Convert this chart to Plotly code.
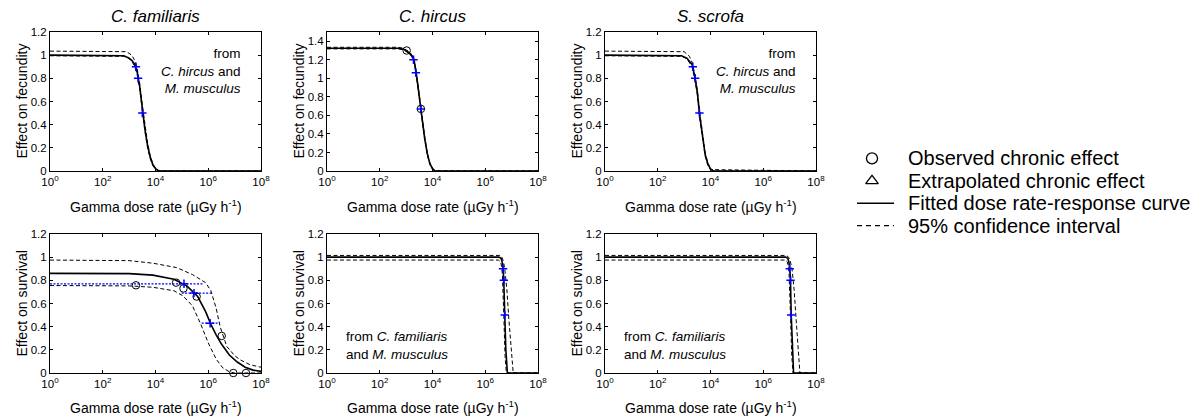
import plotly.graph_objects as go

# ---------------- data (x values are log10 of gamma dose rate, µGy/h) ----------------
TITLES = ["C. familiaris", "C. hircus", "S. scrofa"]
Y_TITLES = ["Effect on fecundity", "Effect on survival"]
X_TITLE = "Gamma dose rate (µGy h<sup>-1</sup>)"
X_TICK_EXP = [0, 2, 4, 6, 8]
Y_TICKS_STD = [0, 0.2, 0.4, 0.6, 0.8, 1, 1.2]
Y_TICKS_CH_FEC = [0, 0.2, 0.4, 0.6, 0.8, 1, 1.2, 1.4]
LEGEND_LABELS = ["Observed chronic effect", "Extrapolated chronic effect",
                 "Fitted dose rate-response curve", "95% confidence interval"]
NOTE_TOP = "from<br><i>C. hircus</i> and<br><i>M. musculus</i>"
NOTE_BOTTOM = "from <i>C. familiaris</i><br>and <i>M. musculus</i>"

# Panel 1: C. familiaris fecundity
cf_fec_fit_x = [0, 2.6, 2.8, 3.0, 3.1, 3.2, 3.3, 3.4, 3.5, 3.6, 3.7, 3.8, 3.9, 4.0, 4.1, 4.2, 8]
cf_fec_fit_y = [1.0, 1.0, 0.995, 0.975, 0.955, 0.925, 0.86, 0.73, 0.52, 0.36, 0.22, 0.12, 0.055, 0.02, 0.005, 0, 0]
cf_fec_up_x = [0, 2.7, 2.9, 3.1, 3.2, 3.3, 3.4, 3.5, 3.6, 3.7, 3.8, 3.9, 4.0, 4.1, 4.2, 8]
cf_fec_up_y = [1.035, 1.035, 1.03, 1.0, 0.96, 0.89, 0.76, 0.57, 0.39, 0.24, 0.13, 0.06, 0.025, 0.006, 0, 0]
cf_fec_lo_x = [0, 2.6, 2.8, 3.0, 3.1, 3.2, 3.3, 3.4, 3.5, 3.6, 3.7, 3.8, 3.9, 4.0, 4.1, 8]
cf_fec_lo_y = [0.995, 0.995, 0.99, 0.97, 0.945, 0.91, 0.84, 0.71, 0.50, 0.34, 0.2, 0.105, 0.045, 0.015, 0, 0]
cf_fec_ext_x = [3.26, 3.34, 3.50]
cf_fec_ext_y = [0.9, 0.8, 0.5]

# Panel 2: C. hircus fecundity
ch_fec_fit_x = [0, 2.7, 2.9, 3.0, 3.1, 3.2, 3.3, 3.4, 3.5, 3.6, 3.7, 3.8, 3.9, 4.0, 4.1, 8]
ch_fec_fit_y = [1.325, 1.325, 1.315, 1.30, 1.28, 1.25, 1.20, 1.02, 0.79, 0.57, 0.36, 0.19, 0.08, 0.025, 0, 0]
ch_fec_up_y = [1.335, 1.335, 1.325, 1.31, 1.29, 1.26, 1.21, 1.04, 0.81, 0.59, 0.38, 0.20, 0.09, 0.03, 0, 0]
ch_fec_lo_y = [1.318, 1.318, 1.308, 1.29, 1.27, 1.24, 1.19, 1.00, 0.77, 0.55, 0.34, 0.18, 0.07, 0.02, 0, 0]
ch_fec_obs_x = [3.02, 3.56]
ch_fec_obs_y = [1.30, 0.67]
ch_fec_ext_x = [3.28, 3.37, 3.56]
ch_fec_ext_y = [1.2, 1.06, 0.67]

# Panel 3: S. scrofa fecundity
ss_fec_fit_x = [0, 2.7, 2.9, 3.1, 3.2, 3.3, 3.4, 3.5, 3.6, 3.7, 3.8, 3.9, 4.0, 4.1, 8]
ss_fec_fit_y = [1.0, 1.0, 0.995, 0.975, 0.95, 0.92, 0.82, 0.68, 0.46, 0.28, 0.14, 0.06, 0.018, 0, 0]
ss_fec_up_x = [0, 2.8, 3.0, 3.2, 3.3, 3.4, 3.5, 3.6, 3.7, 3.8, 3.9, 4.0, 4.1, 8]
ss_fec_up_y = [1.035, 1.035, 1.03, 0.99, 0.94, 0.84, 0.70, 0.49, 0.30, 0.155, 0.07, 0.022, 0, 0]
ss_fec_lo_x = [0, 2.7, 2.9, 3.1, 3.2, 3.3, 3.4, 3.5, 3.6, 3.7, 3.8, 3.9, 4.0, 8]
ss_fec_lo_y = [0.995, 0.995, 0.99, 0.97, 0.94, 0.90, 0.80, 0.66, 0.44, 0.26, 0.125, 0.05, 0.012, 0]
ss_fec_ext_x = [3.33, 3.42, 3.58]
ss_fec_ext_y = [0.9, 0.8, 0.5]

# Panel 4: C. familiaris survival
cf_sur_fit_x = [0, 2, 3, 3.9, 4.7, 5.2, 5.6, 5.9, 6.1, 6.3, 6.5, 6.8, 7.1, 7.4, 7.7, 8]
cf_sur_fit_y = [0.86, 0.86, 0.858, 0.845, 0.81, 0.75, 0.66, 0.53, 0.42, 0.33, 0.25, 0.155, 0.095, 0.05, 0.025, 0.014]
cf_sur_up_x = [0, 2, 3, 3.9, 4.8, 5.4, 5.9, 6.1, 6.2, 6.3, 6.45, 6.7, 7.0, 7.2, 7.6, 8]
cf_sur_up_y = [0.975, 0.975, 0.97, 0.948, 0.91, 0.85, 0.78, 0.71, 0.64, 0.56, 0.40, 0.23, 0.15, 0.115, 0.07, 0.05]
cf_sur_lo_x = [0, 2, 3, 3.9, 4.7, 5.05, 5.4, 5.7, 6.0, 6.3, 6.55, 6.8, 7.0, 8]
cf_sur_lo_y = [0.755, 0.755, 0.752, 0.74, 0.71, 0.665, 0.58, 0.43, 0.26, 0.12, 0.045, 0.01, 0, 0]
cf_sur_obs_x = [3.26, 4.78, 5.06, 5.56, 6.51, 6.95, 7.43]
cf_sur_obs_y = [0.757, 0.78, 0.73, 0.66, 0.32, 0, 0]
cf_sur_ext_x = [5.08, 5.46, 6.07]
cf_sur_ext_y = [0.77, 0.69, 0.43]
cf_sur_ext_lo = [0, 4.99, 5.75]
cf_sur_ext_hi = [5.81, 6.13, 6.45]

# Panel 5: C. hircus survival
ch_sur_fit_x = [0, 6.52, 6.6, 6.64, 6.67, 6.70, 6.74, 6.78, 6.84, 8]
ch_sur_fit_y = [1.0, 1.0, 0.99, 0.96, 0.91, 0.82, 0.5, 0.2, 0, 0]
ch_sur_up_x = [0, 6.55, 6.63, 6.68, 6.74, 6.82, 6.9, 6.98, 7.06, 8]
ch_sur_up_y = [1.015, 1.015, 1.0, 0.97, 0.9, 0.72, 0.45, 0.18, 0, 0]
ch_sur_lo_x = [0, 6.5, 6.58, 6.62, 6.65, 6.68, 6.71, 6.75, 6.8, 8]
ch_sur_lo_y = [0.975, 0.975, 0.96, 0.92, 0.85, 0.7, 0.45, 0.15, 0, 0]
ch_sur_ext_x = [6.675, 6.705, 6.74]
ch_sur_ext_y = [0.9, 0.8, 0.5]

# Panel 6: S. scrofa survival
ss_sur_fit_x = [0, 6.85, 6.93, 6.97, 7.0, 7.03, 7.06, 7.1, 7.15, 8]
ss_sur_fit_y = [1.0, 1.0, 0.99, 0.96, 0.91, 0.82, 0.5, 0.2, 0, 0]
ss_sur_up_x = [0, 6.88, 6.96, 7.02, 7.09, 7.17, 7.25, 7.32, 7.39, 8]
ss_sur_up_y = [1.015, 1.015, 1.0, 0.97, 0.9, 0.72, 0.45, 0.18, 0, 0]
ss_sur_lo_x = [0, 6.83, 6.91, 6.95, 6.98, 7.01, 7.04, 7.08, 7.13, 8]
ss_sur_lo_y = [0.975, 0.975, 0.96, 0.92, 0.85, 0.7, 0.45, 0.15, 0, 0]
ss_sur_ext_x = [7.005, 7.035, 7.06]
ss_sur_ext_y = [0.9, 0.8, 0.5]

# ---------------- styling / layout ----------------
FONT = "Liberation Sans, Arial, sans-serif"
W, H = 1202, 418
COL_PX = [(50, 261), (327, 538), (605, 816)]
ROW_PX = [(32, 171), (234, 373)]
DASH = "4px,2.5px"
BLUE = "#0000ff"


def dose(v):
    return [10 ** e for e in v]


panels = [
    dict(row=0, col=0, fit=(cf_fec_fit_x, cf_fec_fit_y), up=(cf_fec_up_x, cf_fec_up_y),
         lo=(cf_fec_lo_x, cf_fec_lo_y), obs=None, ext=(cf_fec_ext_x, cf_fec_ext_y), err=None,
         yr=[0, 1.2], yt=Y_TICKS_STD, note="top"),
    dict(row=0, col=1, fit=(ch_fec_fit_x, ch_fec_fit_y), up=(ch_fec_fit_x, ch_fec_up_y),
         lo=(ch_fec_fit_x, ch_fec_lo_y), obs=(ch_fec_obs_x, ch_fec_obs_y),
         ext=(ch_fec_ext_x, ch_fec_ext_y), err=None, yr=[0, 1.5], yt=Y_TICKS_CH_FEC, note=None),
    dict(row=0, col=2, fit=(ss_fec_fit_x, ss_fec_fit_y), up=(ss_fec_up_x, ss_fec_up_y),
         lo=(ss_fec_lo_x, ss_fec_lo_y), obs=None, ext=(ss_fec_ext_x, ss_fec_ext_y), err=None,
         yr=[0, 1.2], yt=Y_TICKS_STD, note="top"),
    dict(row=1, col=0, fit=(cf_sur_fit_x, cf_sur_fit_y), up=(cf_sur_up_x, cf_sur_up_y),
         lo=(cf_sur_lo_x, cf_sur_lo_y), obs=(cf_sur_obs_x, cf_sur_obs_y),
         ext=(cf_sur_ext_x, cf_sur_ext_y), err=(cf_sur_ext_lo, cf_sur_ext_hi),
         yr=[0, 1.2], yt=Y_TICKS_STD, note=None),
    dict(row=1, col=1, fit=(ch_sur_fit_x, ch_sur_fit_y), up=(ch_sur_up_x, ch_sur_up_y),
         lo=(ch_sur_lo_x, ch_sur_lo_y), obs=None, ext=(ch_sur_ext_x, ch_sur_ext_y), err=None,
         yr=[0, 1.2], yt=Y_TICKS_STD, note="bottom"),
    dict(row=1, col=2, fit=(ss_sur_fit_x, ss_sur_fit_y), up=(ss_sur_up_x, ss_sur_up_y),
         lo=(ss_sur_lo_x, ss_sur_lo_y), obs=None, ext=(ss_sur_ext_x, ss_sur_ext_y), err=None,
         yr=[0, 1.2], yt=Y_TICKS_STD, note="bottom"),
]

fig = go.Figure()
layout = dict(template="none", width=W, height=H, margin=dict(l=0, r=0, t=0, b=0, pad=0),
              autosize=False, paper_bgcolor="white", plot_bgcolor="white", showlegend=False,
              font=dict(family=FONT, color="black", size=11))
annotations = []

for i, p in enumerate(panels):
    k = i + 1
    xa = "x" if k == 1 else f"x{k}"
    ya = "y" if k == 1 else f"y{k}"
    x0, x1 = COL_PX[p["col"]]
    y0, y1 = ROW_PX[p["row"]]
    layout["xaxis" if k == 1 else f"xaxis{k}"] = dict(
        domain=[x0 / W, x1 / W], anchor=ya, type="log", range=[0, 8], automargin=False,
        tickvals=[10 ** e for e in X_TICK_EXP],
        ticktext=[f"10<sup>{e}</sup>" for e in X_TICK_EXP],
        ticks="inside", ticklen=3, tickcolor="black", showline=True, linecolor="black",
        linewidth=1, mirror="ticks", showgrid=False, zeroline=False,
        tickfont=dict(size=11.5, family=FONT, color="black"))
    layout["yaxis" if k == 1 else f"yaxis{k}"] = dict(
        domain=[1 - y1 / H, 1 - y0 / H], anchor=xa, range=p["yr"], tickvals=p["yt"],
        automargin=False, ticktext=[f"{v:g}" for v in p["yt"]],
        ticks="inside", ticklen=3, tickcolor="black", showline=True, linecolor="black",
        linewidth=1, mirror="ticks", showgrid=False, zeroline=False,
        tickfont=dict(size=11.5, family=FONT, color="black"))

    # confidence interval (dashed)
    for key in ("up", "lo"):
        fig.add_trace(go.Scatter(x=dose(p[key][0]), y=p[key][1], mode="lines",
                                 line=dict(color="black", width=1, dash=DASH),
                                 xaxis=xa, yaxis=ya, hoverinfo="skip"))
    # fitted curve
    fig.add_trace(go.Scatter(x=dose(p["fit"][0]), y=p["fit"][1], mode="lines",
                             line=dict(color="black", width=1.6), xaxis=xa, yaxis=ya))
    # extrapolated error bars (blue dotted)
    if p["err"] is not None:
        for lo, hi, yv in zip(p["err"][0], p["err"][1], p["ext"][1]):
            fig.add_trace(go.Scatter(x=dose([lo, hi]), y=[yv, yv], mode="lines",
                                     line=dict(color=BLUE, width=1.2, dash="2px,1.5px"),
                                     xaxis=xa, yaxis=ya, hoverinfo="skip"))
    # observed
    if p["obs"] is not None:
        fig.add_trace(go.Scatter(x=dose(p["obs"][0]), y=p["obs"][1], mode="markers",
                                 marker=dict(symbol="circle-open", size=7.5, color="black",
                                             line=dict(width=1, color="black")),
                                 xaxis=xa, yaxis=ya, cliponaxis=False))
    # extrapolated
    fig.add_trace(go.Scatter(x=dose(p["ext"][0]), y=p["ext"][1], mode="markers",
                             marker=dict(symbol="cross-thin", size=6, color=BLUE,
                                         line=dict(width=1.5, color=BLUE)),
                             xaxis=xa, yaxis=ya))

    xd, yd = f"{xa} domain", f"{ya} domain"
    if p["row"] == 0:
        annotations.append(dict(text=f"<i>{TITLES[p['col']]}</i>", xref=xd, yref=yd,
                                x=0.5, y=1 + (y0 - 17) / (y1 - y0), xanchor="center",
                                yanchor="middle", showarrow=False,
                                font=dict(size=17, family=FONT)))
    annotations.append(dict(text=X_TITLE, xref=xd, yref=yd, x=0.5,
                            y=-(206 - y1) / (y1 - y0) if p["row"] == 0 else -(407 - y1) / (y1 - y0),
                            xanchor="center", yanchor="middle", showarrow=False,
                            font=dict(size=14, family=FONT)))
    annotations.append(dict(text=Y_TITLES[p["row"]], xref=xd, yref=yd,
                            x=-29 / (x1 - x0), y=0.5, textangle=-90,
                            xanchor="center", yanchor="middle", showarrow=False,
                            font=dict(size=14, family=FONT)))
    if p["note"] == "top":
        annotations.append(dict(text=NOTE_TOP, xref=xd, yref=yd, x=0.915, y=0.72,
                                xanchor="right", yanchor="middle", align="right",
                                showarrow=False, font=dict(size=13.5, family=FONT)))
    elif p["note"] == "bottom":
        annotations.append(dict(text=NOTE_BOTTOM, xref=xd, yref=yd, x=0.08, y=0.2,
                                xanchor="left", yanchor="middle", align="left",
                                showarrow=False, font=dict(size=13.5, family=FONT)))

# ---------------- legend (drawn on a hidden axis) ----------------
LX0, LX1 = 840, 1202
LY0, LY1 = 136, 248
layout["xaxis7"] = dict(domain=[LX0 / W, LX1 / W], range=[LX0, LX1], visible=False,
                        anchor="y7", fixedrange=True, automargin=False)
layout["yaxis7"] = dict(domain=[1 - LY1 / H, 1 - LY0 / H], range=[4, -1], visible=False,
                        anchor="x7", fixedrange=True, automargin=False)
sym_cx, line_x0, line_x1, text_x = 872, 857, 894, 906
rows = list(range(len(LEGEND_LABELS)))
fig.add_trace(go.Scatter(x=[sym_cx], y=[rows[0]], mode="markers", xaxis="x7", yaxis="y7",
                         marker=dict(symbol="circle-open", size=11, color="black",
                                     line=dict(width=1.3))))
fig.add_trace(go.Scatter(x=[sym_cx], y=[rows[1]], mode="markers", xaxis="x7", yaxis="y7",
                         marker=dict(symbol="triangle-up-open", size=11, color="black",
                                     line=dict(width=1.3))))
fig.add_trace(go.Scatter(x=[line_x0, line_x1], y=[rows[2]] * 2, mode="lines", xaxis="x7",
                         yaxis="y7", line=dict(color="black", width=1.6)))
fig.add_trace(go.Scatter(x=[line_x0, line_x1], y=[rows[3]] * 2, mode="lines", xaxis="x7",
                         yaxis="y7", line=dict(color="black", width=1.2, dash="5px,4px")))
for r, lab in zip(rows, LEGEND_LABELS):
    annotations.append(dict(text=lab, xref="x7", yref="y7", x=text_x, y=r, xanchor="left",
                            yanchor="middle", showarrow=False,
                            font=dict(size=20, family=FONT)))

layout["annotations"] = annotations
fig.update_layout(**layout)
fig.write_html("out.html", config={"displayModeBar": False, "staticPlot": True},
               post_script="document.body.style.margin='0';document.body.style.overflow='hidden';")
